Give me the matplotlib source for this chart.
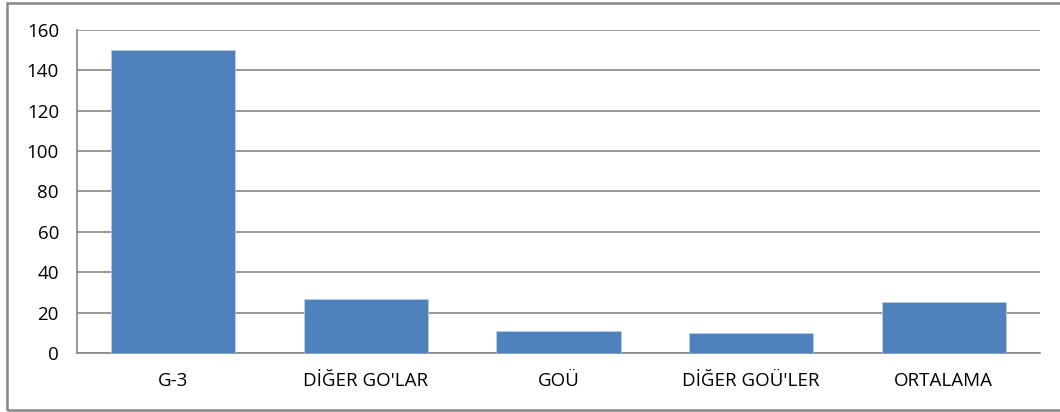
import matplotlib.pyplot as plt
import numpy as np
from matplotlib.patches import Rectangle

categories = ["G-3", "DİĞER GO'LAR", "GOÜ", "DİĞER GOÜ'LER", "ORTALAMA"]
values = [150.3, 26.6, 10.9, 9.8, 25.2]
yticks = [0, 20, 40, 60, 80, 100, 120, 140, 160]

plt.rcParams['font.family'] = ['Open Sans', 'DejaVu Sans']

W, H = 1060, 412
fig = plt.figure(figsize=(W / 100, H / 100), dpi=100)
ax = fig.add_axes([77 / W, (H - 353) / H, 963 / W, (353 - 30) / H])

x = np.arange(len(categories))
ax.bar(x, values, width=0.644, color="#4F81BD", edgecolor="#B9CDE5",
       linewidth=0.6, zorder=3)

ax.set_xlim(-0.5, len(categories) - 0.5)
ax.set_ylim(0, 160)
ax.set_yticks(yticks)
ax.set_xticks(x)
ax.set_xticklabels(categories)
ax.yaxis.grid(True, color="#868686", linewidth=1.2, zorder=0)
ax.tick_params(axis="both", length=0, labelsize=13.5, colors="black")
ax.tick_params(axis="x", pad=14)
ax.tick_params(axis="y", pad=13)

for s in ["top", "right"]:
    ax.spines[s].set_visible(False)
for s in ["left", "bottom"]:
    ax.spines[s].set_color("#868686")
    ax.spines[s].set_linewidth(1.2)

# outer chart border (right side runs past the image edge)
fig.patches.append(Rectangle((7 / W, 2 / H), 1.0, (409 - 2) / H,
                             transform=fig.transFigure, fill=False,
                             edgecolor="#868686", linewidth=1.8))

fig.savefig("out.png", dpi=100)
